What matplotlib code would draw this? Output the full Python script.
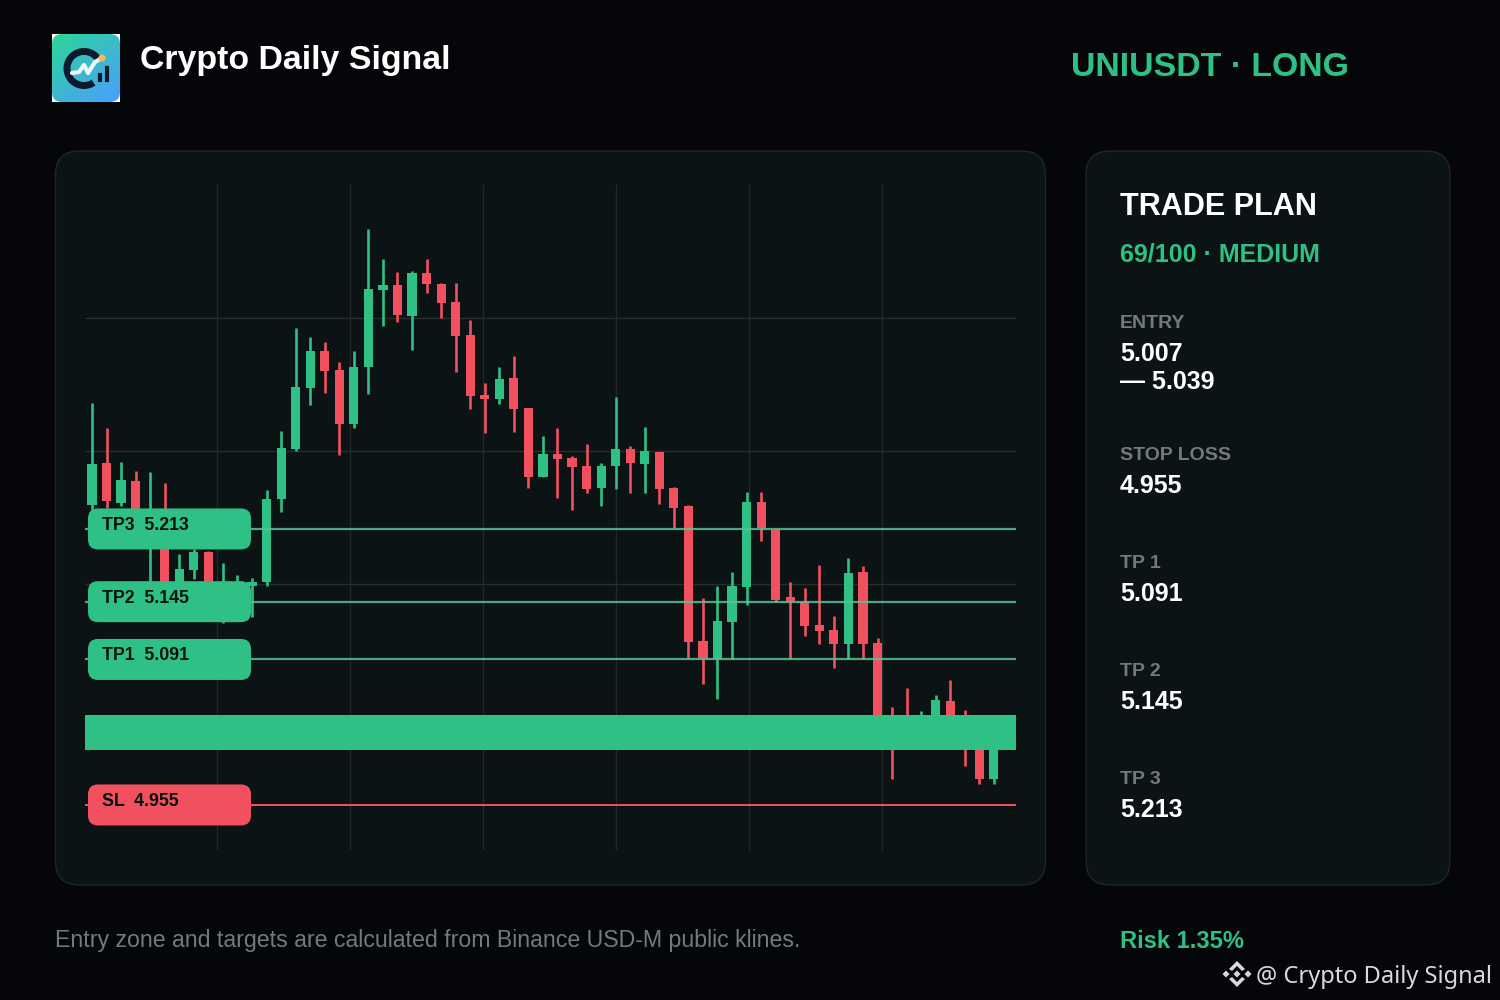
import numpy as np
import matplotlib
matplotlib.use('Agg')
import matplotlib.pyplot as plt
from matplotlib.patches import FancyBboxPatch, Circle, Arc, Polygon

plt.rcParams['font.family'] = ['Liberation Sans', 'DejaVu Sans']

# candles
opens = [5.235, 5.275, 5.237, 5.258, 5.203, 5.226, 5.156, 5.175, 5.191, 5.137, 5.142, 5.160, 5.163,
         5.241, 5.288, 5.345, 5.379, 5.362, 5.311, 5.364, 5.436, 5.441, 5.412, 5.452, 5.442, 5.425,
         5.394, 5.338, 5.334, 5.354, 5.326, 5.262, 5.283, 5.279, 5.272, 5.251, 5.272, 5.288, 5.274,
         5.285, 5.251, 5.234, 5.108, 5.091, 5.126, 5.159, 5.238, 5.212, 5.149, 5.145, 5.123, 5.119,
         5.105, 5.173, 5.106, 5.030, 5.030, 5.025, 5.025, 5.052, 5.030, 5.020, 4.979]
closes = [5.274, 5.239, 5.259, 5.221, 5.226, 5.156, 5.176, 5.191, 5.156, 5.158, 5.156, 5.163, 5.241,
          5.289, 5.346, 5.379, 5.361, 5.311, 5.364, 5.437, 5.441, 5.413, 5.452, 5.442, 5.424, 5.393,
          5.337, 5.334, 5.353, 5.325, 5.262, 5.283, 5.278, 5.271, 5.250, 5.272, 5.288, 5.275, 5.286,
          5.250, 5.233, 5.107, 5.092, 5.127, 5.160, 5.238, 5.214, 5.147, 5.146, 5.122, 5.118, 5.105,
          5.172, 5.105, 5.034, 5.020, 5.018, 5.034, 5.053, 5.020, 5.011, 4.979, 5.016]
highs = [5.331, 5.307, 5.276, 5.267, 5.266, 5.256, 5.190, 5.194, 5.192, 5.181, 5.170, 5.167, 5.249,
         5.305, 5.401, 5.392, 5.388, 5.369, 5.379, 5.493, 5.465, 5.453, 5.454, 5.465, 5.443, 5.443,
         5.408, 5.349, 5.364, 5.375, 5.326, 5.300, 5.307, 5.281, 5.292, 5.275, 5.336, 5.291, 5.308,
         5.285, 5.252, 5.235, 5.148, 5.160, 5.173, 5.248, 5.248, 5.213, 5.163, 5.158, 5.179, 5.132,
         5.186, 5.178, 5.111, 5.047, 5.064, 5.043, 5.058, 5.072, 5.044, 5.025, 5.020]
lows = [5.231, 5.233, 5.234, 5.217, 5.156, 5.147, 5.147, 5.166, 5.149, 5.125, 5.135, 5.131, 5.160,
        5.229, 5.286, 5.329, 5.340, 5.282, 5.307, 5.339, 5.403, 5.406, 5.380, 5.434, 5.410, 5.360,
        5.325, 5.303, 5.330, 5.304, 5.251, 5.262, 5.242, 5.231, 5.247, 5.234, 5.250, 5.247, 5.247,
        5.236, 5.214, 5.092, 5.068, 5.054, 5.091, 5.142, 5.202, 5.145, 5.091, 5.113, 5.105, 5.083,
        5.091, 5.091, 5.030, 4.979, 5.011, 5.011, 5.016, 5.011, 4.991, 4.975, 4.975]

entry_low = 5.007
entry_high = 5.039
stop_loss = 4.955
tp1 = 5.091
tp2 = 5.145
tp3 = 5.213
plan_labels = ['STOP LOSS', 'TP 1', 'TP 2', 'TP 3']
plan_values = [stop_loss, tp1, tp2, tp3]
plan_rows = [453, 561, 669, 777]

GREEN = '#2ec084'
RED = '#f1515e'
BG = '#040609'
PANEL = '#0c1314'
EDGE = '#1e2729'
GRID = '#20282a'
GREY = '#747a7b'
W, H = 1500, 1000

fig = plt.figure(figsize=(15, 10), dpi=100, facecolor=BG)


def pixel_axes(z):
    a = fig.add_axes([0, 0, 1, 1], zorder=z)
    a.set_xlim(0, W)
    a.set_ylim(H, 0)
    a.axis('off')
    return a


base = pixel_axes(0)
top = pixel_axes(2)

# panels
base.add_patch(FancyBboxPatch((55.5, 151), 990, 734, boxstyle='round,pad=0,rounding_size=24',
                              fc=PANEL, ec=EDGE, lw=1.0))
base.add_patch(FancyBboxPatch((1086, 151), 364, 734, boxstyle='round,pad=0,rounding_size=24',
                              fc=PANEL, ec=EDGE, lw=1.0))

# logo
base.add_patch(plt.Rectangle((52, 34), 68, 68, fc='white', ec='none'))
xx, yy = np.meshgrid(np.linspace(0, 1, 68), np.linspace(0, 1, 68))
grad = (xx * 0.6 + yy * 0.8) / 1.4
c0 = np.array([0.17, 0.84, 0.60])
c1 = np.array([0.30, 0.62, 1.0])
rgb = c0[None, None, :] * (1 - grad[..., None]) + c1[None, None, :] * grad[..., None]
im = base.imshow(rgb, extent=(52, 120, 102, 34), aspect='auto', zorder=2)
clip = FancyBboxPatch((52, 34), 68, 68, boxstyle='round,pad=0,rounding_size=10', fc='none', ec='none',
                      transform=base.transData)
base.add_patch(clip)
im.set_clip_path(clip)
base.set_xlim(0, W)
base.set_ylim(H, 0)
base.add_patch(Arc((84, 68.5), 34, 34, theta1=56, theta2=330, ec='#0b1a2c', lw=5, zorder=3))
base.plot([72, 79, 84, 88, 95, 102], [73, 72, 65, 73, 62, 58], color='#eaf6f7', lw=3, zorder=4,
          solid_joinstyle='round', solid_capstyle='round')
base.add_patch(Circle((102, 58), 3.6, fc='#f4b860', ec='none', zorder=5))
base.plot([107, 107], [68, 80], color='#0b1a2c', lw=3, zorder=3)
base.plot([99.5, 99.5], [75, 80], color='#0b1a2c', lw=3, zorder=3)

# header and side texts
base.text(140, 61, 'Crypto Daily Signal', color='white', fontsize=24.4, fontweight='bold', va='center')
base.text(1071, 67, 'UNIUSDT · LONG', color=GREEN, fontsize=24.4, fontweight='bold', va='center')
base.text(1120, 207, 'TRADE PLAN', color='white', fontsize=22.1, fontweight='bold', va='center')
base.text(1120, 254, '69/100 · MEDIUM', color=GREEN, fontsize=18, fontweight='bold', va='center')
base.text(1120, 323, 'ENTRY', color=GREY, fontsize=14, fontweight='bold', va='center')
base.text(1120, 354, f'{entry_low:.3f}', color='white', fontsize=18, fontweight='bold', va='center')
base.text(1120, 382, f'— {entry_high:.3f}', color='white', fontsize=18, fontweight='bold', va='center')
for name, val, row in zip(plan_labels, plan_values, plan_rows):
    base.text(1120, row + 2, name, color=GREY, fontsize=14, fontweight='bold', va='center')
    base.text(1120, row + 33, f'{val:.3f}', color='white', fontsize=18, fontweight='bold', va='center')
base.text(55, 940, 'Entry zone and targets are calculated from Binance USD-M public klines.',
          color=GREY, fontsize=16.7, va='center')
base.text(1120, 941, 'Risk 1.35%', color=GREEN, fontsize=17.1, fontweight='bold', va='center')

# watermark
mark = '#d9d9d9'
top.text(1256, 977, '@ Crypto Daily Signal', color=mark, fontsize=17.0, family='Noto Sans', va='center')
for cx in (1226, 1237, 1248):
    top.add_patch(Polygon([(cx - 3.5, 974), (cx, 970.5), (cx + 3.5, 974), (cx, 977.5)], fc=mark, ec='none'))
top.add_patch(Polygon([(1229, 969), (1237, 961), (1245, 969), (1242, 971), (1237, 966), (1232, 971)],
                      fc=mark, ec='none'))
top.add_patch(Polygon([(1229, 979), (1237, 987), (1245, 979), (1242, 977), (1237, 982), (1232, 977)],
                      fc=mark, ec='none'))

# chart
ax = fig.add_axes([85 / W, 1 - 850 / H, 931 / W, 665 / H], zorder=1)
ax.patch.set_alpha(0)
for s in ax.spines.values():
    s.set_visible(False)
ax.set_xlim(-0.48, 63.52)
ax.set_ylim(4.9129, 5.5345)
ax.set_xticks(np.linspace(-0.53, 63.47, 8)[1:-1])
ax.set_yticks(np.linspace(4.9129, 5.5345, 6)[1:-1])
ax.tick_params(length=0, labelbottom=False, labelleft=False)
ax.grid(True, axis='y', color='#272e2e', lw=1)
ax.grid(True, axis='x', color=GRID, lw=1)
ax.set_axisbelow(True)

idx = np.arange(len(opens))
o = np.array(opens)
c = np.array(closes)
cols = [GREEN if b > a else RED for a, b in zip(o, c)]
ax.vlines(idx, lows, highs, colors=cols, lw=1.9, zorder=2)
ax.bar(idx, np.abs(c - o), bottom=np.minimum(o, c), width=0.63, color=cols, zorder=3)

for level in (tp1, tp2, tp3):
    ax.axhline(level, color='#5cc198', lw=1.6, alpha=0.85, zorder=4)
ax.axhline(stop_loss, color=RED, lw=1.4, zorder=4)
ax.axhspan(entry_low - 0.0005, entry_high + 0.0005, color=GREEN, lw=0, zorder=5)

# price tags
fig.canvas.draw()
for name, level, col in [('TP3', tp3, GREEN), ('TP2', tp2, GREEN), ('TP1', tp1, GREEN), ('SL', stop_loss, RED)]:
    y = H - ax.transData.transform((0, level))[1]
    top.add_patch(FancyBboxPatch((88, y - 20.5), 163, 41, boxstyle='round,pad=0,rounding_size=10',
                                 fc=col, ec='none'))
    top.text(102, y - 3.5, f'{name}  {level:.3f}', color='#07110d', fontsize=12.8, fontweight='bold', va='center')

fig.savefig('out.png', dpi=100, facecolor=BG)
